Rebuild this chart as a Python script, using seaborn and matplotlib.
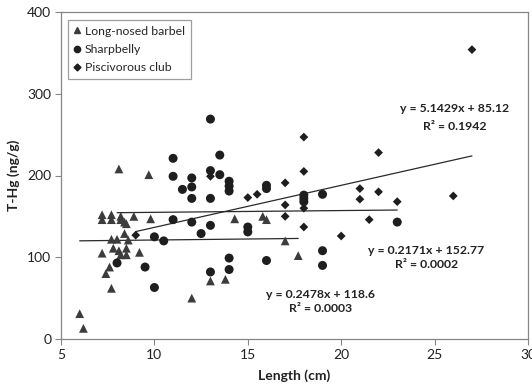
import numpy as np
import pandas as pd
import matplotlib
matplotlib.use("Agg")
import matplotlib.pyplot as plt
import seaborn as sns
from matplotlib.lines import Line2D

sns.set_theme(style="white")
plt.rcParams['font.family'] = ['Lato', 'DejaVu Sans']

# ---- data ----
barbel_x = [6.0, 6.2, 7.2, 7.2, 7.7, 7.7, 8.2, 8.2, 8.4, 8.5, 8.9, 9.8, 8.1, 9.7,
            7.7, 8.0, 8.4, 8.6, 7.2, 7.8, 8.1, 8.2, 8.5, 8.5, 9.2, 7.6, 7.4, 7.7,
            12.0, 13.0, 13.8, 14.3, 15.8, 16.0, 17.0, 17.7]
barbel_y = [31, 13, 152, 146, 152, 146, 150, 146, 143, 141, 150, 147, 208, 201,
            122, 122, 129, 121, 105, 111, 108, 103, 111, 103, 106, 88, 80, 62,
            50, 71, 73, 147, 150, 146, 120, 102]

sharp_x = [8.0, 9.5, 10.0, 10.0, 10.5, 11.0, 11.0, 11.0, 11.5, 12.0, 12.0, 12.0,
           12.0, 12.5, 13.0, 13.0, 13.0, 13.0, 13.0, 13.5, 13.5, 14.0, 14.0, 14.0,
           14.0, 14.0, 15.0, 15.0, 16.0, 16.0, 16.0, 18.0, 18.0, 18.0, 19.0, 19.0,
           19.0, 23.0]
sharp_y = [93, 88, 63, 125, 120, 146, 199, 221, 183, 197, 186, 172,
           143, 129, 269, 206, 172, 139, 82, 225, 201, 193, 187, 181,
           99, 85, 137, 131, 188, 184, 96, 176, 172, 168, 177, 108,
           90, 143]

club_x = [9.0, 13.0, 15.0, 15.5, 17.0, 17.0, 17.0, 18.0, 18.0, 18.0, 18.0,
          20.0, 21.0, 21.0, 21.5, 22.0, 22.0, 23.0, 26.0, 27.0]
club_y = [127, 199, 173, 177, 191, 164, 150, 247, 205, 160, 137,
          126, 184, 171, 146, 228, 180, 168, 175, 354]

species = ["Long-nosed barbel", "Sharpbelly", "Piscivorous club"]
slopes = [0.2478, 0.2171, 5.1429]
intercepts = [118.6, 152.77, 85.12]
fit_xmin = [6.0, 8.0, 9.0]
fit_xmax = [17.7, 23.0, 27.0]
eq_labels = ["y = 0.2478x + 118.6", "y = 0.2171x + 152.77", "y = 5.1429x + 85.12"]
r2_labels = ["R\u00b2 = 0.0003", "R\u00b2 = 0.0002", "R\u00b2 = 0.1942"]

x_ticks = [5, 10, 15, 20, 25, 30]
y_ticks = [0, 100, 200, 300, 400]

df = pd.concat([
    pd.DataFrame({"x": barbel_x, "y": barbel_y, "sp": species[0]}),
    pd.DataFrame({"x": sharp_x, "y": sharp_y, "sp": species[1]}),
    pd.DataFrame({"x": club_x, "y": club_y, "sp": species[2]}),
])

# ---- figure ----
fig = plt.figure(figsize=(5.32, 3.86), dpi=100)
ax = fig.add_axes([61/532, (386-339)/386, 467/532, 327/386])

markers = {species[0]: "^", species[1]: "o", species[2]: "D"}
colors = {species[0]: "#3c3c3c", species[1]: "#1e1e1e", species[2]: "#1e1e1e"}
sizes = {species[0]: 40, species[1]: 42, species[2]: 20}

for sp in species:
    sub = df[df.sp == sp]
    sns.scatterplot(data=sub, x="x", y="y", marker=markers[sp], color=colors[sp],
                    s=sizes[sp], edgecolor="none", linewidth=0, ax=ax, legend=False,
                    zorder=3)

for i in range(3):
    xs = np.array([fit_xmin[i], fit_xmax[i]])
    ax.plot(xs, slopes[i] * xs + intercepts[i], color="#2a2a2a", lw=0.9, zorder=2)

ax.set_xlim(5, 30)
ax.set_ylim(0, 400)
ax.set_xticks(x_ticks)
ax.set_yticks(y_ticks)
ax.tick_params(axis="both", direction="out", length=4, width=0.8, color="#868686",
               labelsize=10, labelcolor="#222222", pad=3, bottom=True, left=True)
for s in ["left", "bottom", "top", "right"]:
    ax.spines[s].set_visible(True)
    ax.spines[s].set_color("#868686")
    ax.spines[s].set_linewidth(0.9)

ax.set_xlabel("Length (cm)", fontsize=10, fontweight="bold", color="#222222", labelpad=6)
ax.set_ylabel("T-Hg (ng/g)", fontsize=10, fontweight="bold", color="#222222", labelpad=5)
ax.grid(False)

# equation labels (positions in axes fraction)
eq_pos = [((320.5-61)/467, (339-294)/327, (339-308)/327),
          ((426.5-61)/467, (339-250)/327, (339-265)/327),
          ((455-61)/467, (339-109)/327, (339-127)/327)]
for i in range(3):
    px, py1, py2 = eq_pos[i]
    ax.text(px, py1, eq_labels[i], transform=ax.transAxes, ha="center", va="center",
            fontsize=8.8, fontweight="bold", color="#222222")
    ax.text(px, py2, r2_labels[i], transform=ax.transAxes, ha="center", va="center",
            fontsize=8.8, fontweight="bold", color="#222222")

handles = [Line2D([], [], marker=markers[sp], color=colors[sp], linestyle="none",
                  markersize=4.5 if sp != species[2] else 3.5) for sp in species]
leg = ax.legend(handles, species, loc="upper left", bbox_to_anchor=(0.015, 0.975),
                frameon=True, fancybox=False, fontsize=8.8, handlelength=0.6,
                handletextpad=0.35, borderpad=0.45, labelspacing=0.6,
                borderaxespad=0.0)
leg.get_frame().set_edgecolor("#868686")
leg.get_frame().set_linewidth(0.9)

fig.savefig("out.png", dpi=100)
